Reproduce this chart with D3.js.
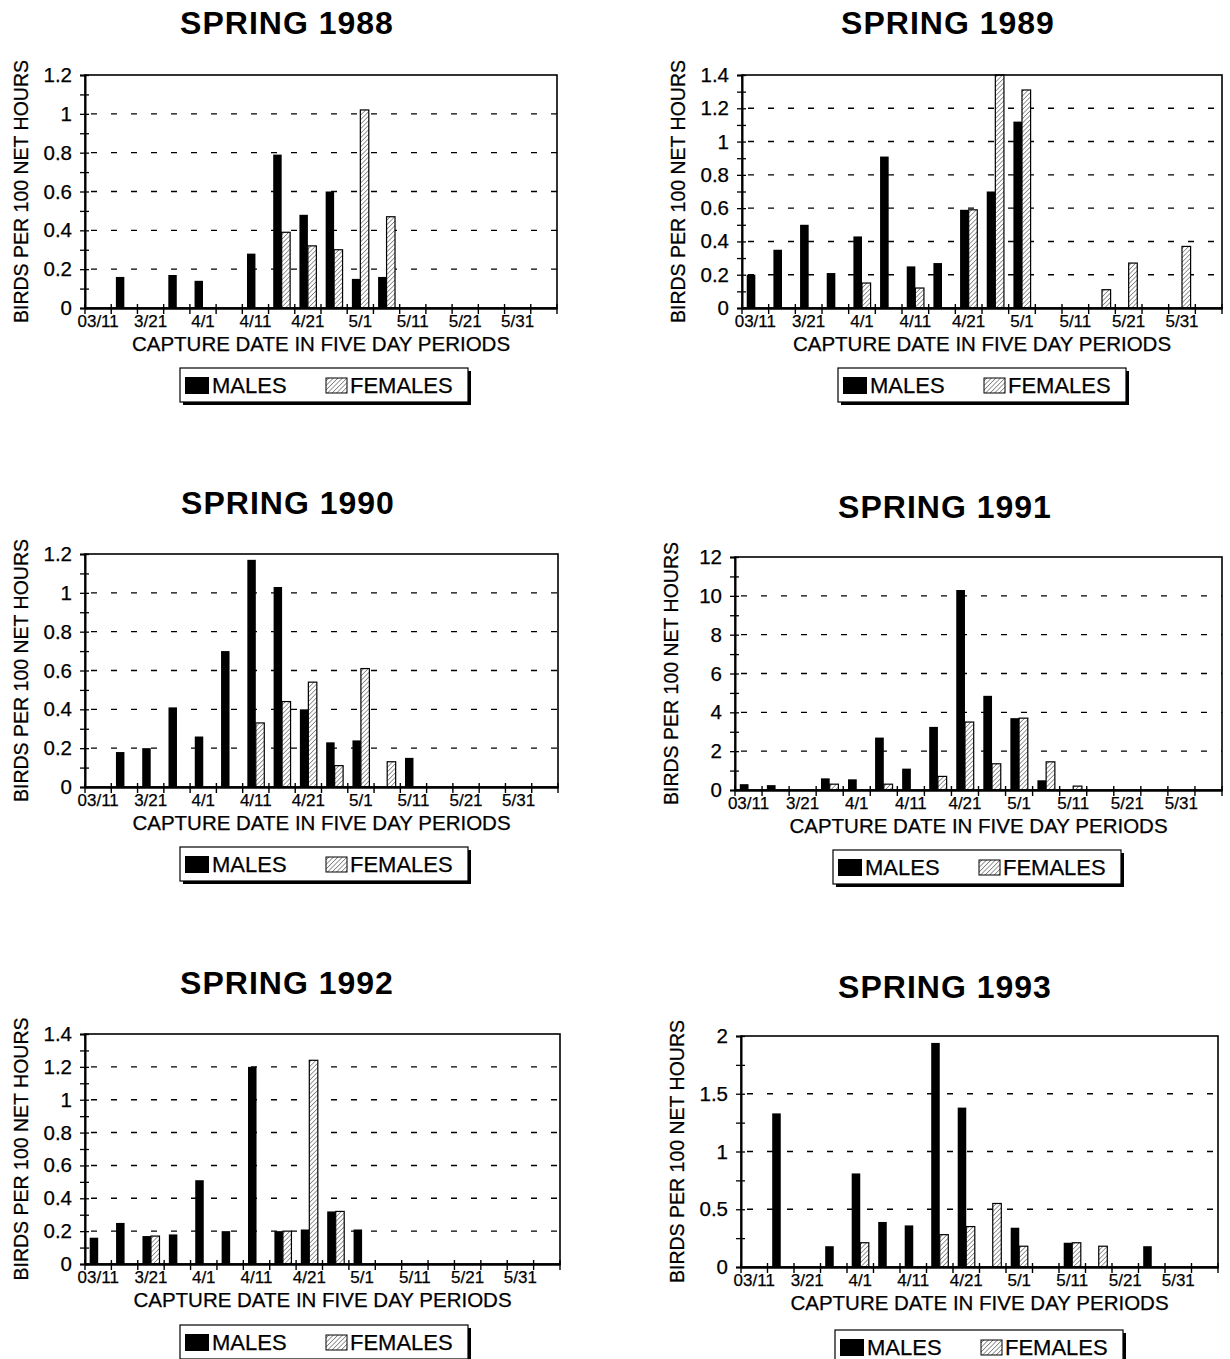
<!DOCTYPE html>
<html>
<head>
<meta charset="utf-8">
<script src="https://cdn.jsdelivr.net/npm/d3@7"></script>
<style>
  body { margin: 0; background: #fff; }
  text { font-family: "Liberation Sans", Arial, Helvetica, sans-serif; fill: #000; stroke: #000; stroke-width: 0.25; }
</style>
</head>
<body>
<div class="chart"></div>
<script>
var width = 1230,
    height = 1359;

// five day periods, 03/11 .. 6/5
var periods = ["03/11","3/16","3/21","3/26","4/1","4/6","4/11","4/16","4/21",
               "4/26","5/1","5/6","5/11","5/16","5/21","5/26","5/31","6/5"];
var tickLabels = ["03/11","3/21","4/1","4/11","4/21","5/1","5/11","5/21","5/31"];

var years = [1988, 1989, 1990, 1991, 1992, 1993];

var males1988   = [0,.16,0,.17,.14,0,.28,.79,.48,.60,.15,.16,0,0,0,0,0,0];
var females1988 = [0,0,0,0,0,0,0,.39,.32,.30,1.02,.47,0,0,0,0,0,0];

var males1989   = [.20,.35,.50,.21,.43,.91,.25,.27,.59,.70,1.12,0,0,0,0,0,0,0];
var females1989 = [0,0,0,0,.15,0,.12,0,.59,1.40,1.31,0,0,.11,.27,0,.37,0];

var males1990   = [0,.18,.20,.41,.26,.70,1.17,1.03,.40,.23,.24,0,.15,0,0,0,0,0];
var females1990 = [0,0,0,0,0,0,.33,.44,.54,.11,.61,.13,0,0,0,0,0,0];

var males1991   = [.30,.25,0,.60,.55,2.7,1.1,3.25,10.3,4.85,3.7,.50,0,0,0,0,0,0];
var females1991 = [0,0,0,.30,0,.30,0,.70,3.5,1.35,3.7,1.45,.20,0,0,0,0,0];

var males1992   = [.16,.25,.17,.18,.51,.20,1.20,.20,.21,.32,.21,0,0,0,0,0,0,0];
var females1992 = [0,0,.17,0,0,0,0,.20,1.24,.32,0,0,0,0,0,0,0,0];

var males1993   = [0,1.33,0,.18,.81,.39,.36,1.94,1.38,0,.34,0,.21,0,0,.18,0,0];
var females1993 = [0,0,0,0,.21,0,0,.28,.35,.55,.18,0,.21,.18,0,0,0,0];

// y tick labels per panel
var yTicks1988 = [0,0.2,0.4,0.6,0.8,1,1.2];
var yTicks1989 = [0,0.2,0.4,0.6,0.8,1,1.2,1.4];
var yTicks1990 = [0,0.2,0.4,0.6,0.8,1,1.2];
var yTicks1991 = [0,2,4,6,8,10,12];
var yTicks1992 = [0,0.2,0.4,0.6,0.8,1,1.2,1.4];
var yTicks1993 = [0,0.5,1,1.5,2];

var males   = [males1988, males1989, males1990, males1991, males1992, males1993];
var females = [females1988, females1989, females1990, females1991, females1992, females1993];
var yTicks  = [yTicks1988, yTicks1989, yTicks1990, yTicks1991, yTicks1992, yTicks1993];

// where each panel sits on the page
var layout = [
  {x0:85,  x1:557,  y0:75,   y1:308,  tx:287, ty:34,  lx:180, ly:368},
  {x0:742, x1:1222, y0:75,   y1:308,  tx:948, ty:34,  lx:838, ly:368},
  {x0:85,  x1:558,  y0:554,  y1:787,  tx:288, ty:514, lx:180, ly:847},
  {x0:735, x1:1222, y0:557,  y1:790,  tx:945, ty:518, lx:833, ly:850},
  {x0:85,  x1:560,  y0:1034, y1:1264, tx:287, ty:994, lx:180, ly:1325},
  {x0:741, x1:1218, y0:1036, y1:1267, tx:945, ty:998, lx:835, ly:1330}
];

var svg = d3.select(".chart").append("svg")
    .attr("width", width)
    .attr("height", height);

svg.append("rect").attr("width", width).attr("height", height).attr("fill", "#fff");

var defs = svg.append("defs");
defs.append("pattern")
    .attr("id", "hatch")
    .attr("patternUnits", "userSpaceOnUse")
    .attr("width", 3.2).attr("height", 3.2)
    .attr("patternTransform", "rotate(45)")
  .call(function(p) {
    p.append("rect").attr("width", 3.2).attr("height", 3.2).attr("fill", "#fff");
    p.append("line").attr("x1", 0).attr("y1", 0).attr("x2", 0).attr("y2", 3.2)
      .attr("stroke", "#333").attr("stroke-width", 1);
  });

years.forEach(function(year, k) {
  var L = layout[k];
  var ticks = yTicks[k];
  var ymax = ticks[ticks.length - 1];
  var step = ticks[1] - ticks[0];

  var g = svg.append("g");

  var x = d3.scaleBand()
      .domain(periods)
      .range([L.x0, L.x1])
      .padding(0);

  var xs = d3.scaleBand()
      .domain(["m", "f"])
      .range([0, x.bandwidth()])
      .paddingInner(0)
      .paddingOuter(0.55);

  var y = d3.scaleLinear()
      .domain([0, ymax])
      .range([L.y1, L.y0]);

  // title
  g.append("text")
    .attr("x", L.tx).attr("y", L.ty)
    .attr("text-anchor", "middle")
    .attr("font-size", 32).attr("font-weight", "bold")
    .attr("letter-spacing", 1)
    .style("stroke-width", 0)
    .text("SPRING " + year);

  // dashed grid
  g.selectAll(".grid")
    .data(ticks.filter(function(t) { return t > 0 && t < ymax; }))
    .enter().append("line")
    .attr("x1", L.x0 + 6).attr("x2", L.x1)
    .attr("y1", function(d) { return y(d); })
    .attr("y2", function(d) { return y(d); })
    .attr("stroke", "#000").attr("stroke-width", 1.4)
    .attr("stroke-dasharray", "6,14");

  // bars
  var rows = periods.map(function(p, i) {
    return {p: p, m: males[k][i], f: females[k][i]};
  });

  g.selectAll(".male")
    .data(rows.filter(function(d) { return d.m > 0; }))
    .enter().append("rect")
    .attr("x", function(d) { return x(d.p) + xs("m"); })
    .attr("y", function(d) { return y(d.m); })
    .attr("width", xs.bandwidth())
    .attr("height", function(d) { return y(0) - y(d.m); })
    .attr("fill", "#000");

  g.selectAll(".female")
    .data(rows.filter(function(d) { return d.f > 0; }))
    .enter().append("rect")
    .attr("x", function(d) { return x(d.p) + xs("f"); })
    .attr("y", function(d) { return y(d.f); })
    .attr("width", xs.bandwidth())
    .attr("height", function(d) { return y(0) - y(d.f); })
    .attr("fill", "url(#hatch)")
    .attr("stroke", "#000").attr("stroke-width", 1.2);

  // plot frame
  g.append("rect")
    .attr("x", L.x0).attr("y", L.y0)
    .attr("width", L.x1 - L.x0).attr("height", L.y1 - L.y0)
    .attr("fill", "none").attr("stroke", "#000").attr("stroke-width", 1.6);

  // y axis, crossing ticks with minor steps
  var minor = d3.range(0, ymax + step / 4, step / 2);
  var yAxis = d3.axisLeft(y)
      .tickValues(minor)
      .tickSize(5)
      .tickPadding(8)
      .tickFormat(function(d) {
        var hit = ticks.some(function(t) { return Math.abs(t - d) < 1e-9; });
        return hit ? String(+d.toFixed(2)) : "";
      });

  g.append("g")
    .attr("transform", "translate(" + L.x0 + ",0)")
    .call(yAxis)
    .call(function(a) {
      a.select(".domain").attr("stroke-width", 2);
      a.selectAll(".tick line").attr("x1", 4).attr("stroke-width", 1.3);
      a.selectAll(".tick text")
        .attr("font-size", 20.5)
        .attr("font-family", "Liberation Sans, Arial, sans-serif");
    });

  // x axis: labels on every other period, ticks on period boundaries
  var xAxis = d3.axisBottom(x)
      .tickValues(tickLabels)
      .tickSize(0)
      .tickPadding(7);

  g.append("g")
    .attr("transform", "translate(0," + L.y1 + ")")
    .call(xAxis)
    .call(function(a) {
      a.select(".domain").attr("stroke-width", 2.4);
      a.selectAll(".tick text")
        .attr("font-size", 17)
        .attr("font-family", "Liberation Sans, Arial, sans-serif")
        .attr("dx", 0);
    });

  g.selectAll(".xtick")
    .data(d3.range(periods.length + 1))
    .enter().append("line")
    .attr("x1", function(i) { return L.x0 + i * x.step(); })
    .attr("x2", function(i) { return L.x0 + i * x.step(); })
    .attr("y1", L.y1 - 4).attr("y2", L.y1 + 6)
    .attr("stroke", "#000").attr("stroke-width", 1.4);

  // axis titles
  g.append("text")
    .attr("x", (L.x0 + L.x1) / 2).attr("y", L.y1 + 43)
    .attr("text-anchor", "middle")
    .attr("font-size", 20.5)
    .text("CAPTURE DATE IN FIVE DAY PERIODS");

  g.append("text")
    .attr("transform", "translate(" + (L.x0 - 57) + "," + ((L.y0 + L.y1) / 2) + ") rotate(-90)")
    .attr("text-anchor", "middle")
    .attr("font-size", 19.5)
    .text("BIRDS PER 100 NET HOURS");

  // legend with drop shadow
  var lg = g.append("g").attr("transform", "translate(" + L.lx + "," + L.ly + ")");
  lg.append("rect").attr("x", 3).attr("y", 3).attr("width", 288).attr("height", 34).attr("fill", "#000");
  lg.append("rect").attr("x", 0).attr("y", 0).attr("width", 288).attr("height", 34)
    .attr("fill", "#fff").attr("stroke", "#000").attr("stroke-width", 1.2);
  lg.append("rect").attr("x", 5).attr("y", 9).attr("width", 24).attr("height", 17).attr("fill", "#000");
  lg.append("text").attr("x", 32).attr("y", 25).attr("font-size", 22).text("MALES");
  lg.append("rect").attr("x", 146).attr("y", 10).attr("width", 21).attr("height", 15)
    .attr("fill", "url(#hatch)").attr("stroke", "#000").attr("stroke-width", 1);
  lg.append("text").attr("x", 170).attr("y", 25).attr("font-size", 22).text("FEMALES");
});
</script>
</body>
</html>
